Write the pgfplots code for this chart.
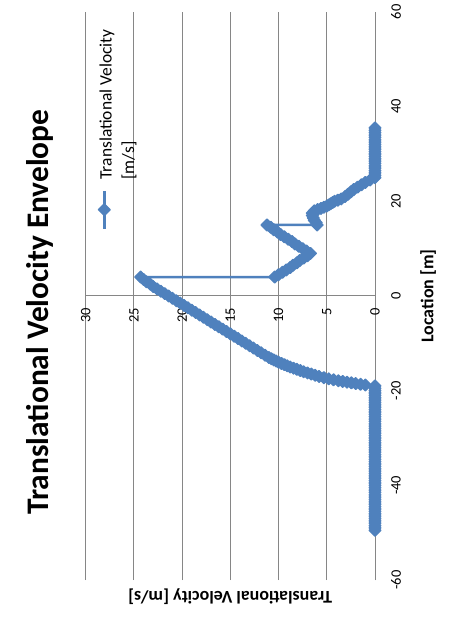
\documentclass[border=0pt]{standalone}
\usepackage{fontspec}
\setmainfont{Carlito}
\usepackage{pgfplots}
\pgfplotsset{compat=1.18}
\definecolor{velblue}{HTML}{4F81BD}
\definecolor{gridgray}{HTML}{868686}

% Velocity envelope along the track: location [m], velocity [m/s]
\pgfplotstableread{
loc vel
-49.5 0
-49.0 0
-48.5 0
-48.0 0
-47.5 0
-47.0 0
-46.5 0
-46.0 0
-45.5 0
-45.0 0
-44.5 0
-44.0 0
-43.5 0
-43.0 0
-42.5 0
-42.0 0
-41.5 0
-41.0 0
-40.5 0
-40.0 0
-39.5 0
-39.0 0
-38.5 0
-38.0 0
-37.5 0
-37.0 0
-36.5 0
-36.0 0
-35.5 0
-35.0 0
-34.5 0
-34.0 0
-33.5 0
-33.0 0
-32.5 0
-32.0 0
-31.5 0
-31.0 0
-30.5 0
-30.0 0
-29.5 0
-29.0 0
-28.5 0
-28.0 0
-27.5 0
-27.0 0
-26.5 0
-26.0 0
-25.5 0
-25.0 0
-24.5 0
-24.0 0
-23.5 0
-23.0 0
-22.5 0
-22.0 0
-21.5 0
-21.0 0
-20.5 0
-20.0 0
-19.5 0
-19.0 0
-18.8 1.0
-18.65 1.5
-18.5 2.0
-18.35 2.45
-18.2 2.9
-18.05 3.35
-17.9 3.8
-17.7 4.3
-17.5 4.8
-17.25 5.3
-17.0 5.8
-16.75 6.2
-16.5 6.6
-16.25 7.0
-16.0 7.4
-15.75 7.75
-15.5 8.1
-15.25 8.45
-15.0 8.8
-14.75 9.1
-14.5 9.4
-14.25 9.7
-14.0 10.0
-13.75 10.25
-13.5 10.5
-13.25 10.75
-13.0 11.0
-12.5 11.4
-12.0 11.8
-11.5 12.2
-11.0 12.6
-10.5 13.0
-10.0 13.4
-9.5 13.8
-9.0 14.2
-8.5 14.6
-8.0 15.0
-7.5 15.4
-7.0 15.8
-6.5 16.2
-6.0 16.6
-5.5 17.0
-5.0 17.4
-4.5 17.8
-4.0 18.2
-3.5 18.6
-3.0 19.0
-2.5 19.4
-2.0 19.8
-1.5 20.2
-1.0 20.6
-0.5 21.0
0.0 21.4
0.5 21.8
1.0 22.2
1.5 22.6
2.0 23.0
2.5 23.3
3.0 23.7
3.5 24.0
4.0 24.3
4.0 10.4
4.5 10.0
5.0 9.6
5.5 9.2
6.0 8.8
6.5 8.5
7.0 8.1
7.5 7.8
8.0 7.4
8.5 7.0
9.0 6.7
9.5 7.1
10.0 7.5
10.5 7.9
11.0 8.3
11.5 8.6
12.0 9.0
12.5 9.4
13.0 9.8
13.5 10.1
14.0 10.5
14.5 10.8
15.0 11.2
15.0 6.0
15.5 6.1
16.0 6.3
16.5 6.4
17.0 6.5
17.5 6.5
18.0 6.3
18.25 5.95
18.5 5.6
18.75 5.3
19.0 5.0
19.25 4.8
19.5 4.6
19.75 4.4
20.0 4.2
20.25 3.85
20.5 3.5
21.0 3.1
21.5 2.8
22.0 2.5
22.5 2.2
23.0 1.8
23.5 1.4
24.0 1.0
24.5 0.5
25.0 0
25.5 0
26.0 0
26.5 0
27.0 0
27.5 0
28.0 0
28.5 0
29.0 0
29.5 0
30.0 0
30.5 0
31.0 0
31.5 0
32.0 0
32.5 0
33.0 0
33.5 0
34.0 0
34.5 0
35.0 0
35.5 0
}\envelope

\begin{document}
\begin{tikzpicture}[rotate=90, transform shape]
\useasboundingbox (0,0) rectangle (635bp,457bp);
\begin{axis}[
  at={(55bp,82bp)}, anchor=south west,
  scale only axis, width=568bp, height=289.3bp,
  xmin=-60, xmax=60, ymin=0, ymax=30,
  enlargelimits=false, clip=false,
  axis lines=middle,
  axis line style={-, draw=gridgray, line width=1bp},
  hide obscured x ticks=false, hide obscured y ticks=false,
  xtick={-60,-40,...,60}, ytick={0,5,...,30},
  major tick length=0pt,
  ymajorgrids, grid style={gridgray, line width=1bp},
  /pgf/number format/assume math mode=true,
  ticklabel style={font=\fontsize{14.5}{17}\selectfont, inner sep=0pt},
  xticklabel style={anchor=north, yshift=-16bp},
  yticklabel style={anchor=east, xshift=-12bp},
  xlabel={Location [m]},
  ylabel={Translational Velocity [m/s]},
  every axis x label/.style={at={(rel axis cs:0.5,0)}, anchor=north, yshift=-45bp, inner sep=0pt, font=\bfseries\fontsize{18}{21}\selectfont},
  every axis y label/.style={at={(rel axis cs:0,0.5)}, xshift=-8bp, rotate=90, anchor=south, inner sep=0pt, font=\bfseries\fontsize{18}{21}\selectfont},
  legend style={draw=none, fill=none, at={(rel axis cs:0.616,0.973)}, anchor=north west, inner sep=0pt, font=\fontsize{17.5}{22.7}\selectfont, cells={anchor=west}, column sep=8bp},
  legend image code/.code={\draw[mark repeat=2, mark phase=2, #1] plot coordinates {(0bp,0bp) (19bp,0bp) (38bp,0bp)};},
]
\addplot[color=velblue, line width=2.5bp, line join=round, mark=square*, mark size=4.2bp, mark options={rotate=45, fill=velblue, line width=1.2bp, solid}] table[x=loc, y=vel] {\envelope};
\addlegendentry{\raisebox{0pt}[\height][0pt]{\begin{tabular}[t]{@{}l@{}}Translational Velocity\\{}[m/s]\end{tabular}}}
\end{axis}
\node[font=\bfseries\fontsize{31.5}{37}\selectfont] at (323bp,417bp) {Translational Velocity Envelope};
\end{tikzpicture}
\end{document}
